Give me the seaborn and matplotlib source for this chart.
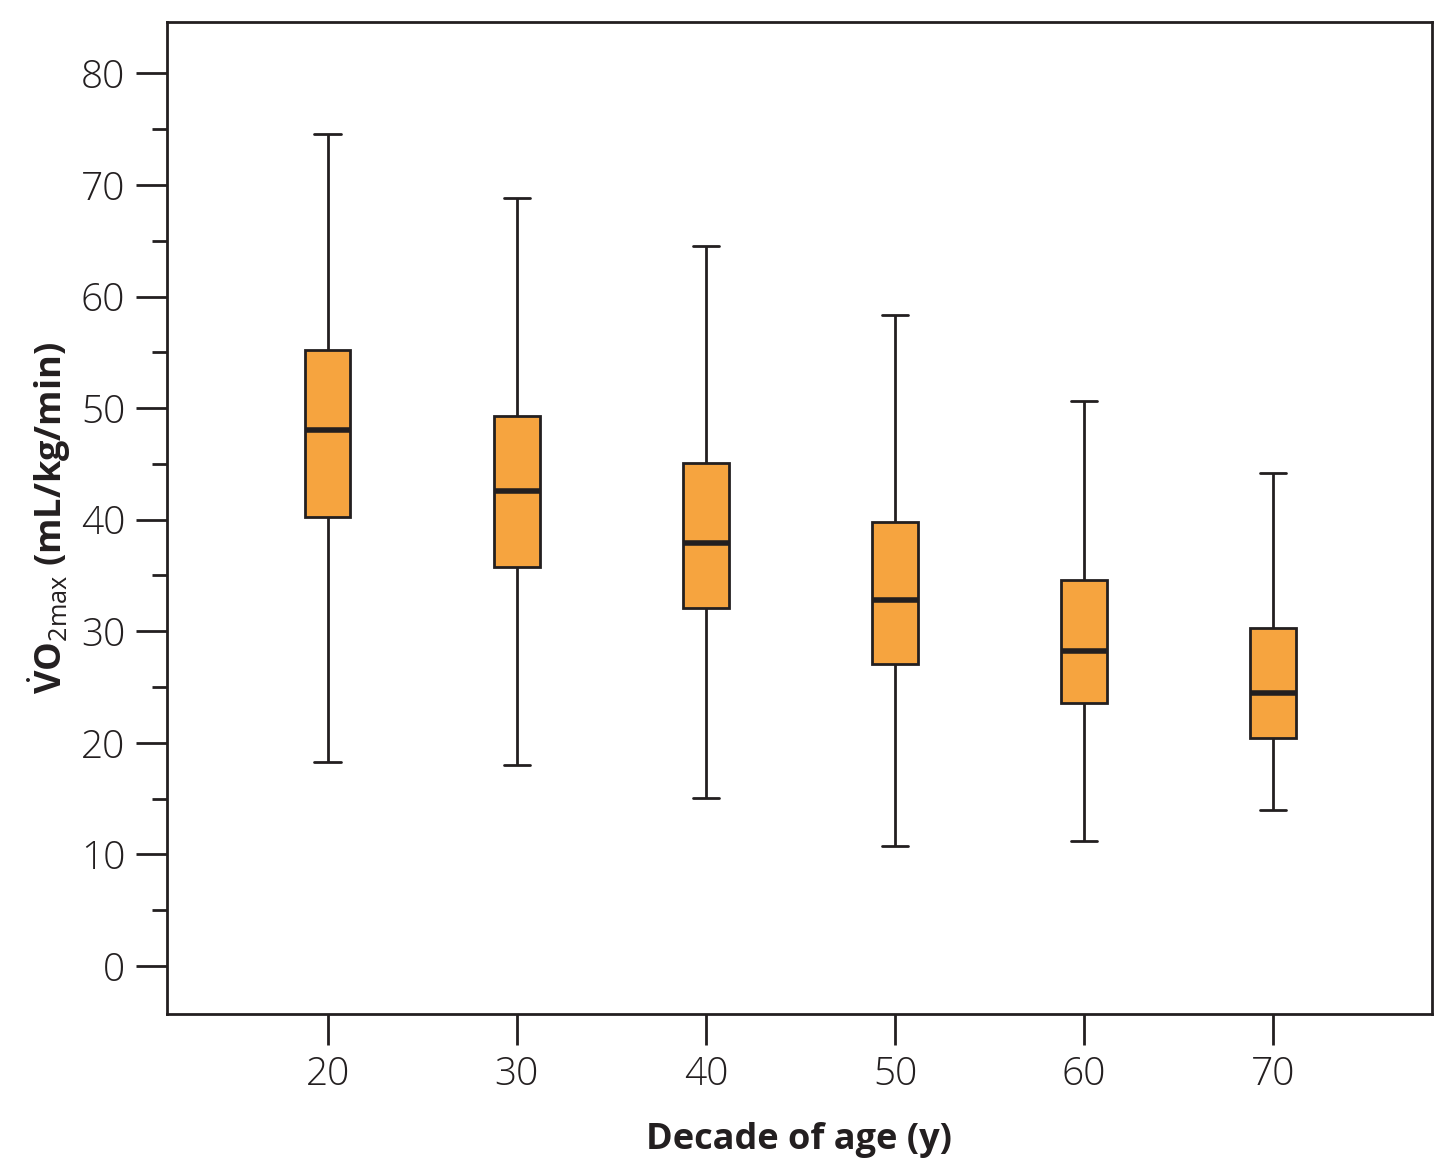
import numpy as np
import pandas as pd
import matplotlib
matplotlib.use('Agg')
import matplotlib.pyplot as plt
import seaborn as sns
from matplotlib.ticker import MultipleLocator

# five-number summaries
decades = ['20', '30', '40', '50', '60', '70']
whisker_low = [18.3, 18.0, 15.1, 10.8, 11.2, 14.0]
q1 = [40.2, 35.8, 32.1, 27.1, 23.6, 20.4]
median = [48.0, 42.6, 37.9, 32.8, 28.2, 24.5]
q3 = [55.2, 49.3, 45.1, 39.8, 34.6, 30.3]
whisker_high = [74.6, 68.8, 64.5, 58.3, 50.6, 44.2]

rows = []
for i, d in enumerate(decades):
    for v in [whisker_low[i], q1[i], median[i], q3[i], whisker_high[i]]:
        rows.append({'decade': d, 'vo2': v})
df = pd.DataFrame(rows)

sns.set_style('white')
plt.rcParams['font.family'] = ['Open Sans', 'DejaVu Sans']
plt.rcParams['mathtext.fontset'] = 'custom'
plt.rcParams['mathtext.rm'] = 'Open Sans'
plt.rcParams['mathtext.bf'] = 'Open Sans:bold'

fig = plt.figure(figsize=(14.56, 11.74), dpi=100)
ax = fig.add_axes([167/1456, 1 - 1014/1174, (1432-167)/1456, (1014-22)/1174])

sns.boxplot(data=df, x='decade', y='vo2', ax=ax, whis=(0, 100), width=0.24,
            color='#F6A43F', saturation=1, linewidth=2,
            boxprops=dict(edgecolor='#231f20', linewidth=2),
            whiskerprops=dict(color='#231f20', linewidth=2),
            capprops=dict(color='#231f20', linewidth=2),
            medianprops=dict(color='#231f20', linewidth=4),
            showfliers=False)

# cap width
for line in ax.lines:
    xd = line.get_xdata()
    if len(xd) == 2 and xd[0] != xd[1]:
        c = (xd[0] + xd[1]) / 2
        if abs(xd[1] - xd[0]) < 0.2:
            line.set_xdata([c - 0.07, c + 0.07])

ax.set_xlim(-0.85, 5.84)
ax.set_ylim(-4.3, 84.6)
ax.yaxis.set_major_locator(MultipleLocator(10))
ax.yaxis.set_minor_locator(MultipleLocator(5))

for s in ax.spines.values():
    s.set_linewidth(2)
    s.set_color('#231f20')

ax.tick_params(axis='both', which='major', direction='out', length=22, width=2,
               color='#231f20', labelsize=28, pad=8, bottom=True, left=True)
ax.tick_params(axis='y', which='minor', direction='out', length=11, width=2,
               color='#231f20', left=True)
for lab in ax.get_xticklabels() + ax.get_yticklabels():
    lab.set_fontweight('light')
    lab.set_color('#231f20')

ax.set_xlabel('Decade of age (y)', fontsize=26, fontweight='bold', color='#231f20', labelpad=20)
ax.set_ylabel(r'$\mathbf{\dot{V}O}_{\mathrm{2max}}$ (mL/kg/min)', fontsize=26,
              fontweight='bold', color='#231f20', labelpad=6)

fig.savefig('out.png', dpi=100)
